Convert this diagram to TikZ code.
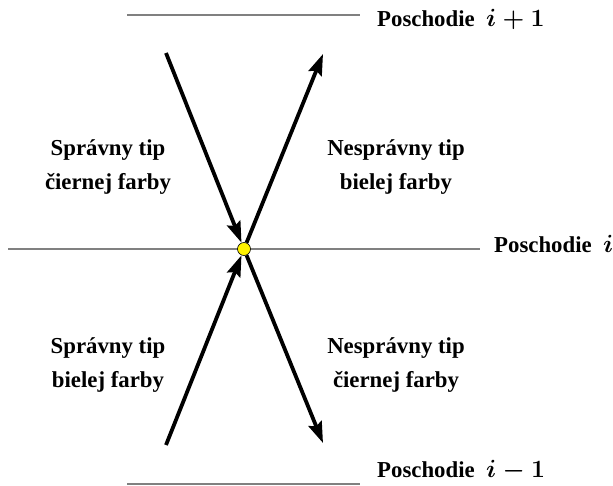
\documentclass[tikz,border=0pt]{standalone}
\usepackage[no-math]{fontspec}
\setmainfont{Liberation Serif}
\usetikzlibrary{arrows.meta}
\newcommand{\floormath}[1]{{\fontsize{26}{26}\selectfont$#1$}}
\begin{document}
\begin{tikzpicture}[x=1pt,y=-1pt,
  floor/.style={draw=black!50, line width=1.4pt},
  arr/.style={line width=3.8pt, -{Stealth[length=21pt,width=14pt,inset=3pt]}},
  lbl/.style={font=\fontsize{22.8}{34}\selectfont\bfseries, align=center},
  flbl/.style={font=\fontsize{22.8}{26}\selectfont\bfseries\boldmath, anchor=base west, inner sep=0pt}]
\useasboundingbox (0,0) rectangle (613,486);
% floors
\coordinate (t1) at (127,15); \coordinate (t2) at (360,15);
\coordinate (m1) at (8,249); \coordinate (m2) at (480,249);
\coordinate (b1) at (127,484); \coordinate (b2) at (360,484);
\draw[floor] (t1) -- (t2);
\draw[floor] (m1) -- (m2);
\draw[floor] (b1) -- (b2);
\node[flbl] (lt) at (377,27) {Poschodie\ \ \floormath{i+1}};
\node[flbl] (lm) at (494,253) {Poschodie\ \ \floormath{i}};
\node[flbl] (lb) at (377,477) {Poschodie\ \ \floormath{i-1}};
% crossing point
\node[circle, fill=yellow, draw=black, line width=0.6pt, minimum size=13pt, inner sep=0pt] (c) at (244,249) {};
\coordinate (tl) at (166,53);
\coordinate (tr) at (323,54);
\coordinate (bl) at (166,445);
\coordinate (br) at (323,443);
\draw[arr] (tl) -- (c);
\draw[arr] (bl) -- (c);
\draw[arr] (c) -- (tr);
\draw[arr] (c) -- (br);
% labels
\node[lbl] (a) at (108,167) {Správny tip\\čiernej farby};
\node[lbl] (b) at (396,167) {Nesprávny tip\\bielej farby};
\node[lbl] (d) at (108,365) {Správny tip\\bielej farby};
\node[lbl] (e) at (396,365) {Nesprávny tip\\čiernej farby};
\end{tikzpicture}
\end{document}
